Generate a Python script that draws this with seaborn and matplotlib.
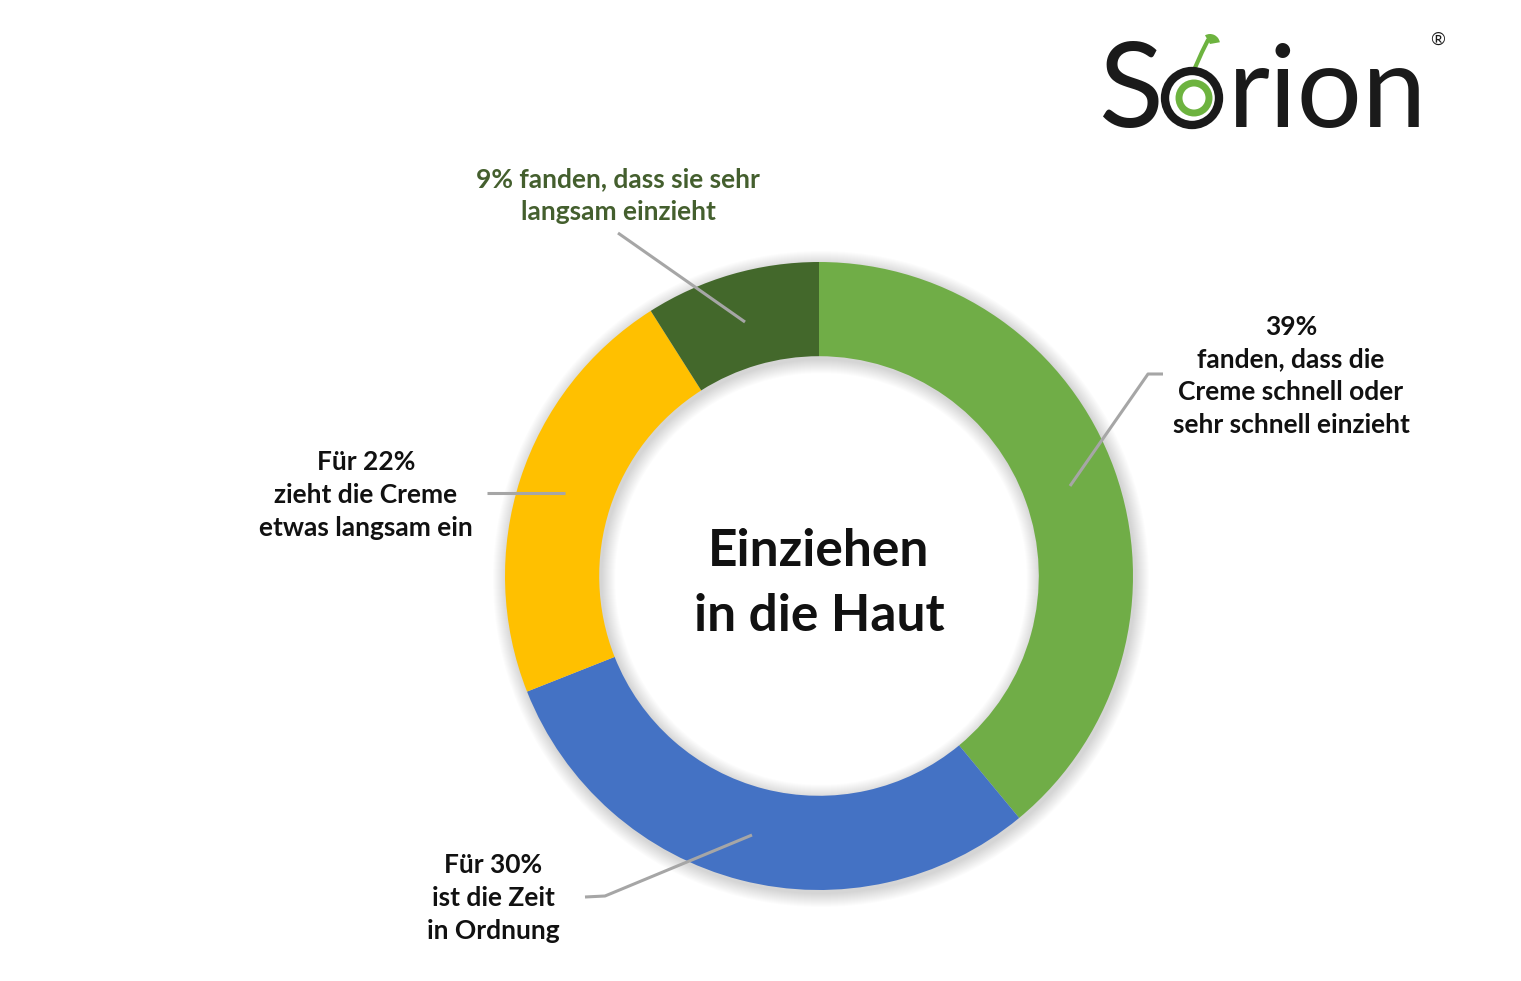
import matplotlib
matplotlib.use("Agg")
import matplotlib.pyplot as plt
from matplotlib.patches import Wedge, Circle
import seaborn as sns

sns.set_theme(style="white")
plt.rcParams['font.family'] = ['Lato', 'DejaVu Sans']

# Data
categories = ["schnell oder sehr schnell", "Zeit in Ordnung", "etwas langsam", "sehr langsam"]
values = [39, 30, 22, 9]
colors = ["#70AD47", "#4472C4", "#FFC000", "#43682B"]
labels = [
    "39%\nfanden, dass die\nCreme schnell oder\nsehr schnell einzieht",
    "Für 30%\nist die Zeit\nin Ordnung",
    "Für 22%\nzieht die Creme\netwas langsam ein",
    "9% fanden, dass sie sehr\nlangsam einzieht",
]
center_title = "Einziehen\nin die Haut"

W, H = 1521, 981
fig = plt.figure(figsize=(W / 100, H / 100), dpi=100)
fig.patch.set_facecolor("white")
ax = fig.add_axes([0, 0, 1, 1])
ax.set_xlim(0, W)
ax.set_ylim(0, H)
ax.set_aspect("equal")
ax.axis("off")

def Y(py):
    return H - py

cx, cy, R = 819, 576, 314
ring = R * 0.30

# soft shadow rings (outside and inside)
for i in range(14):
    ax.add_patch(Wedge((cx + 2, Y(cy) - 3), R + 14 - i, 0, 360, width=ring + 28 - 2 * i,
                       facecolor="#000000", alpha=0.010, lw=0, zorder=0))

ax.pie(values, colors=colors, startangle=90, counterclock=False,
       center=(cx, Y(cy)), radius=R, frame=True,
       wedgeprops=dict(width=ring, linewidth=0, edgecolor="white"))
ax.set_xlim(0, W)
ax.set_ylim(0, H)
ax.axis("off")

# leader lines
line_kw = dict(color="#A6A6A6", lw=2.2, solid_capstyle="butt", zorder=5)
ax.plot([1070, 1148, 1163], [Y(486), Y(374), Y(374)], **line_kw)
ax.plot([752, 605, 585], [Y(835), Y(896), Y(897)], **line_kw)
ax.plot([487, 565], [Y(493), Y(493)], **line_kw)
ax.plot([618, 745], [Y(233), Y(322)], **line_kw)

txt_kw = dict(ha="center", va="center", fontsize=19, fontweight="bold",
              linespacing=1.44, zorder=6)
ax.text(1291, Y(376), labels[0], color="#111111", **txt_kw)
ax.text(493, Y(898), labels[1], color="#111111", **txt_kw)
ax.text(366, Y(495), labels[2], color="#111111", **txt_kw)
ax.text(618, Y(196), labels[3], color="#445F2E", **txt_kw)

ax.text(cx, Y(584), center_title, ha="center", va="center", fontsize=37,
        fontweight="bold", color="#111111", linespacing=1.45, zorder=6)

# logo
ax.text(1098, Y(127), "S", fontsize=86, color="#1a1a1a", ha="left", va="baseline")
ax.text(1228, Y(127), "rion", fontsize=83, color="#1a1a1a", ha="left", va="baseline")
ax.add_patch(Circle((1192, Y(98)), 27, fill=False, ec="#1a1a1a", lw=6, zorder=4))
ax.add_patch(Circle((1194, Y(98)), 15, fill=False, ec="#6DB33F", lw=5, zorder=4))
ax.plot([1194, 1202, 1208], [Y(70), Y(52), Y(40)], color="#6DB33F", lw=3)
ax.add_patch(Wedge((1210, Y(44)), 10, 10, 120, facecolor="#6DB33F", lw=0))
ax.text(1438, Y(40), "®", fontsize=13, color="#1a1a1a", ha="center", va="center")

fig.savefig("out.png", dpi=100, facecolor="white")
